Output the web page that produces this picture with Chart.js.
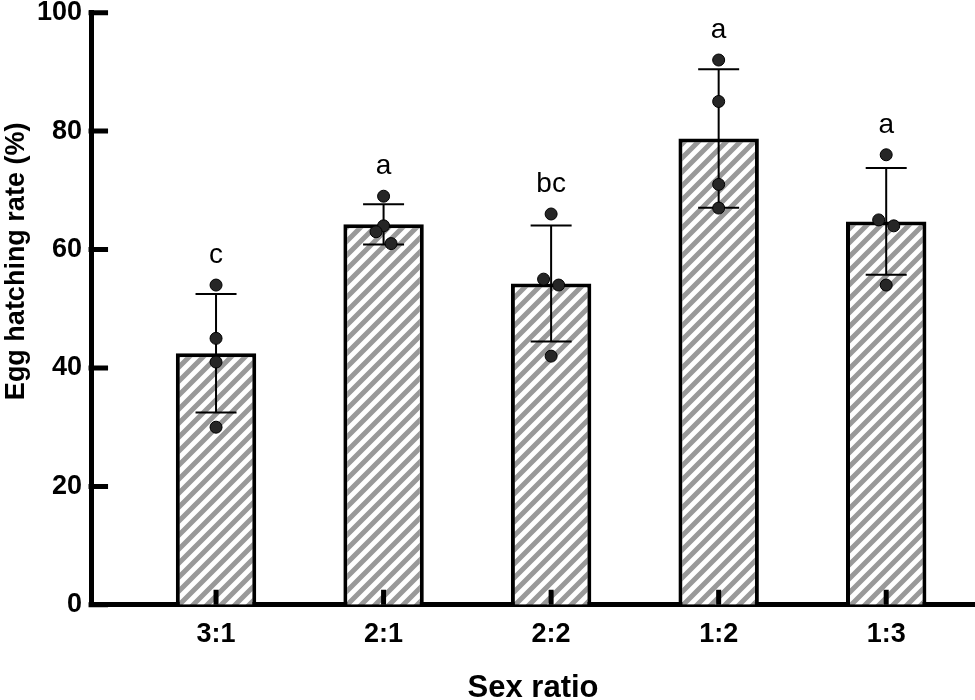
<!DOCTYPE html>
<html lang="en">
<head>
<meta charset="UTF-8">
<title>Egg hatching rate by sex ratio</title>
<script src="https://cdn.jsdelivr.net/npm/chart.js"></script>
<style>
  body { margin: 0; background: #fff; }
</style>
</head>
<body>
<canvas id="hatchChart" width="975" height="700"></canvas>
<script>
// values
const ratios = ['3:1', '2:1', '2:2', '1:2', '1:3'];
const meanRate = [42.5, 64.25, 54.25, 78.75, 64.75];
const sdRate = [10.0, 3.4, 9.8, 11.7, 9.0];
const replicates = [
    [54, 45, 41, 30],
    [69, 64, 63, 61],
    [66, 55, 54, 42],
    [92, 85, 71, 67],
    [76, 65, 64, 54]
];
// which side a dot is nudged to when it overlaps a neighbour (-1 left, 1 right)
const dotSide = [
    [0, 0, 0, 0],
    [0, 0, -1, 1],
    [0, -1, 1, 0],
    [0, 0, 0, 0],
    [0, -1, 1, 0]
];
const letters = ['c', 'a', 'bc', 'a', 'a'];
const yTicks = [0, 20, 40, 60, 80, 100];

const NUDGE = 0.045;
const FONT = "'Liberation Sans', Arial, sans-serif";
Chart.defaults.font.family = FONT;
Chart.defaults.color = '#000';

const ctx = document.getElementById('hatchChart').getContext('2d');

function makeHatch() {
    const s = 14;
    const c = document.createElement('canvas');
    c.width = s; c.height = s;
    const g = c.getContext('2d');
    g.fillStyle = '#fff';
    g.fillRect(0, 0, s, s);
    g.strokeStyle = '#999';
    g.lineWidth = 5;
    g.beginPath();
    g.moveTo(-4, s + 4); g.lineTo(s + 4, -4);
    g.moveTo(-4, 4); g.lineTo(4, -4);
    g.moveTo(s - 4, s + 4); g.lineTo(s + 4, s - 4);
    g.stroke();
    return ctx.createPattern(c, 'repeat');
}

const points = [];
replicates.forEach((vals, i) => {
    vals.forEach((v, j) => points.push({ x: i + dotSide[i][j] * NUDGE, y: v }));
});

const decorations = {
    id: 'decorations',
    afterDatasetDraw(chart, args) {
        if (args.meta.type !== 'bar') return;
        const { x, y } = chart.scales;
        const c = chart.ctx;
        c.save();
        c.strokeStyle = '#000';
        c.lineWidth = 2;
        meanRate.forEach((m, i) => {
            const px = x.getPixelForValue(i);
            const top = y.getPixelForValue(m + sdRate[i]);
            const bot = y.getPixelForValue(m - sdRate[i]);
            c.beginPath();
            c.moveTo(px, top); c.lineTo(px, bot);
            c.moveTo(px - 20.5, top); c.lineTo(px + 20.5, top);
            c.moveTo(px - 20.5, bot); c.lineTo(px + 20.5, bot);
            c.stroke();
        });
        c.restore();
    },
    afterDraw(chart) {
        const { x, y } = chart.scales;
        const area = chart.chartArea;
        const c = chart.ctx;
        c.save();
        // ticks pointing into the plot
        c.strokeStyle = '#000';
        c.lineWidth = 5;
        c.beginPath();
        yTicks.forEach(v => {
            const py = y.getPixelForValue(v);
            c.moveTo(area.left - 2.5, py); c.lineTo(area.left + 17, py);
        });
        ratios.forEach((r, i) => {
            const px = x.getPixelForValue(i);
            c.moveTo(px, area.bottom); c.lineTo(px, area.bottom - 15);
        });
        c.stroke();

        // significance letters
        c.fillStyle = '#000';
        c.font = '28px ' + FONT;
        c.textAlign = 'center';
        c.textBaseline = 'alphabetic';
        letters.forEach((t, i) => {
            const peak = Math.max(meanRate[i] + sdRate[i], ...replicates[i]);
            c.fillText(t, x.getPixelForValue(i), y.getPixelForValue(peak) - 22);
        });

        // y axis title
        c.font = 'bold 27px ' + FONT;
        c.textBaseline = 'middle';
        c.translate(17, area.top + (area.bottom - area.top) * 0.42);
        c.rotate(-Math.PI / 2);
        c.fillText('Egg hatching rate (%)', 0, 0);
        c.restore();
    }
};

new Chart(ctx, {
    type: 'bar',
    data: {
        datasets: [
            {
                type: 'scatter',
                order: 0,
                data: points,
                pointRadius: 6,
                pointHoverRadius: 6,
                backgroundColor: '#262626',
                borderColor: '#000',
                borderWidth: 1
            },
            {
                type: 'bar',
                order: 1,
                data: meanRate.map((m, i) => ({ x: i, y: m })),
                backgroundColor: makeHatch(),
                borderColor: '#000',
                borderWidth: 4,
                categoryPercentage: 0.6,
                barPercentage: 0.8
            }
        ]
    },
    options: {
        responsive: false,
        animation: false,
        events: [],
        layout: { autoPadding: false, padding: { left: 28, top: 0, right: 0, bottom: 0 } },
        plugins: { legend: { display: false }, tooltip: { enabled: false } },
        scales: {
            x: {
                type: 'linear',
                min: -0.746,
                max: 4.53,
                offset: false,
                afterBuildTicks: s => { s.ticks = ratios.map((r, i) => ({ value: i })); },
                grid: { display: false, drawTicks: false },
                border: { color: '#000', width: 5 },
                ticks: {
                    callback: v => ratios[v],
                    font: { size: 27, weight: 'bold' },
                    color: '#000',
                    padding: 13,
                    autoSkip: false,
                    maxRotation: 0
                },
                title: {
                    display: true,
                    text: 'Sex ratio',
                    font: { size: 31, weight: 'bold', lineHeight: 0.75 },
                    color: '#000',
                    padding: { top: 13.5, bottom: 0 }
                }
            },
            y: {
                min: 0,
                max: 100,
                afterBuildTicks: s => { s.ticks = yTicks.map(v => ({ value: v })); },
                grid: { display: false, drawTicks: false },
                border: { color: '#000', width: 5 },
                ticks: {
                    font: { size: 27, weight: 'bold', lineHeight: 0.27 },
                    color: '#000',
                    padding: 9
                }
            }
        }
    },
    plugins: [decorations]
});
</script>
</body>
</html>
